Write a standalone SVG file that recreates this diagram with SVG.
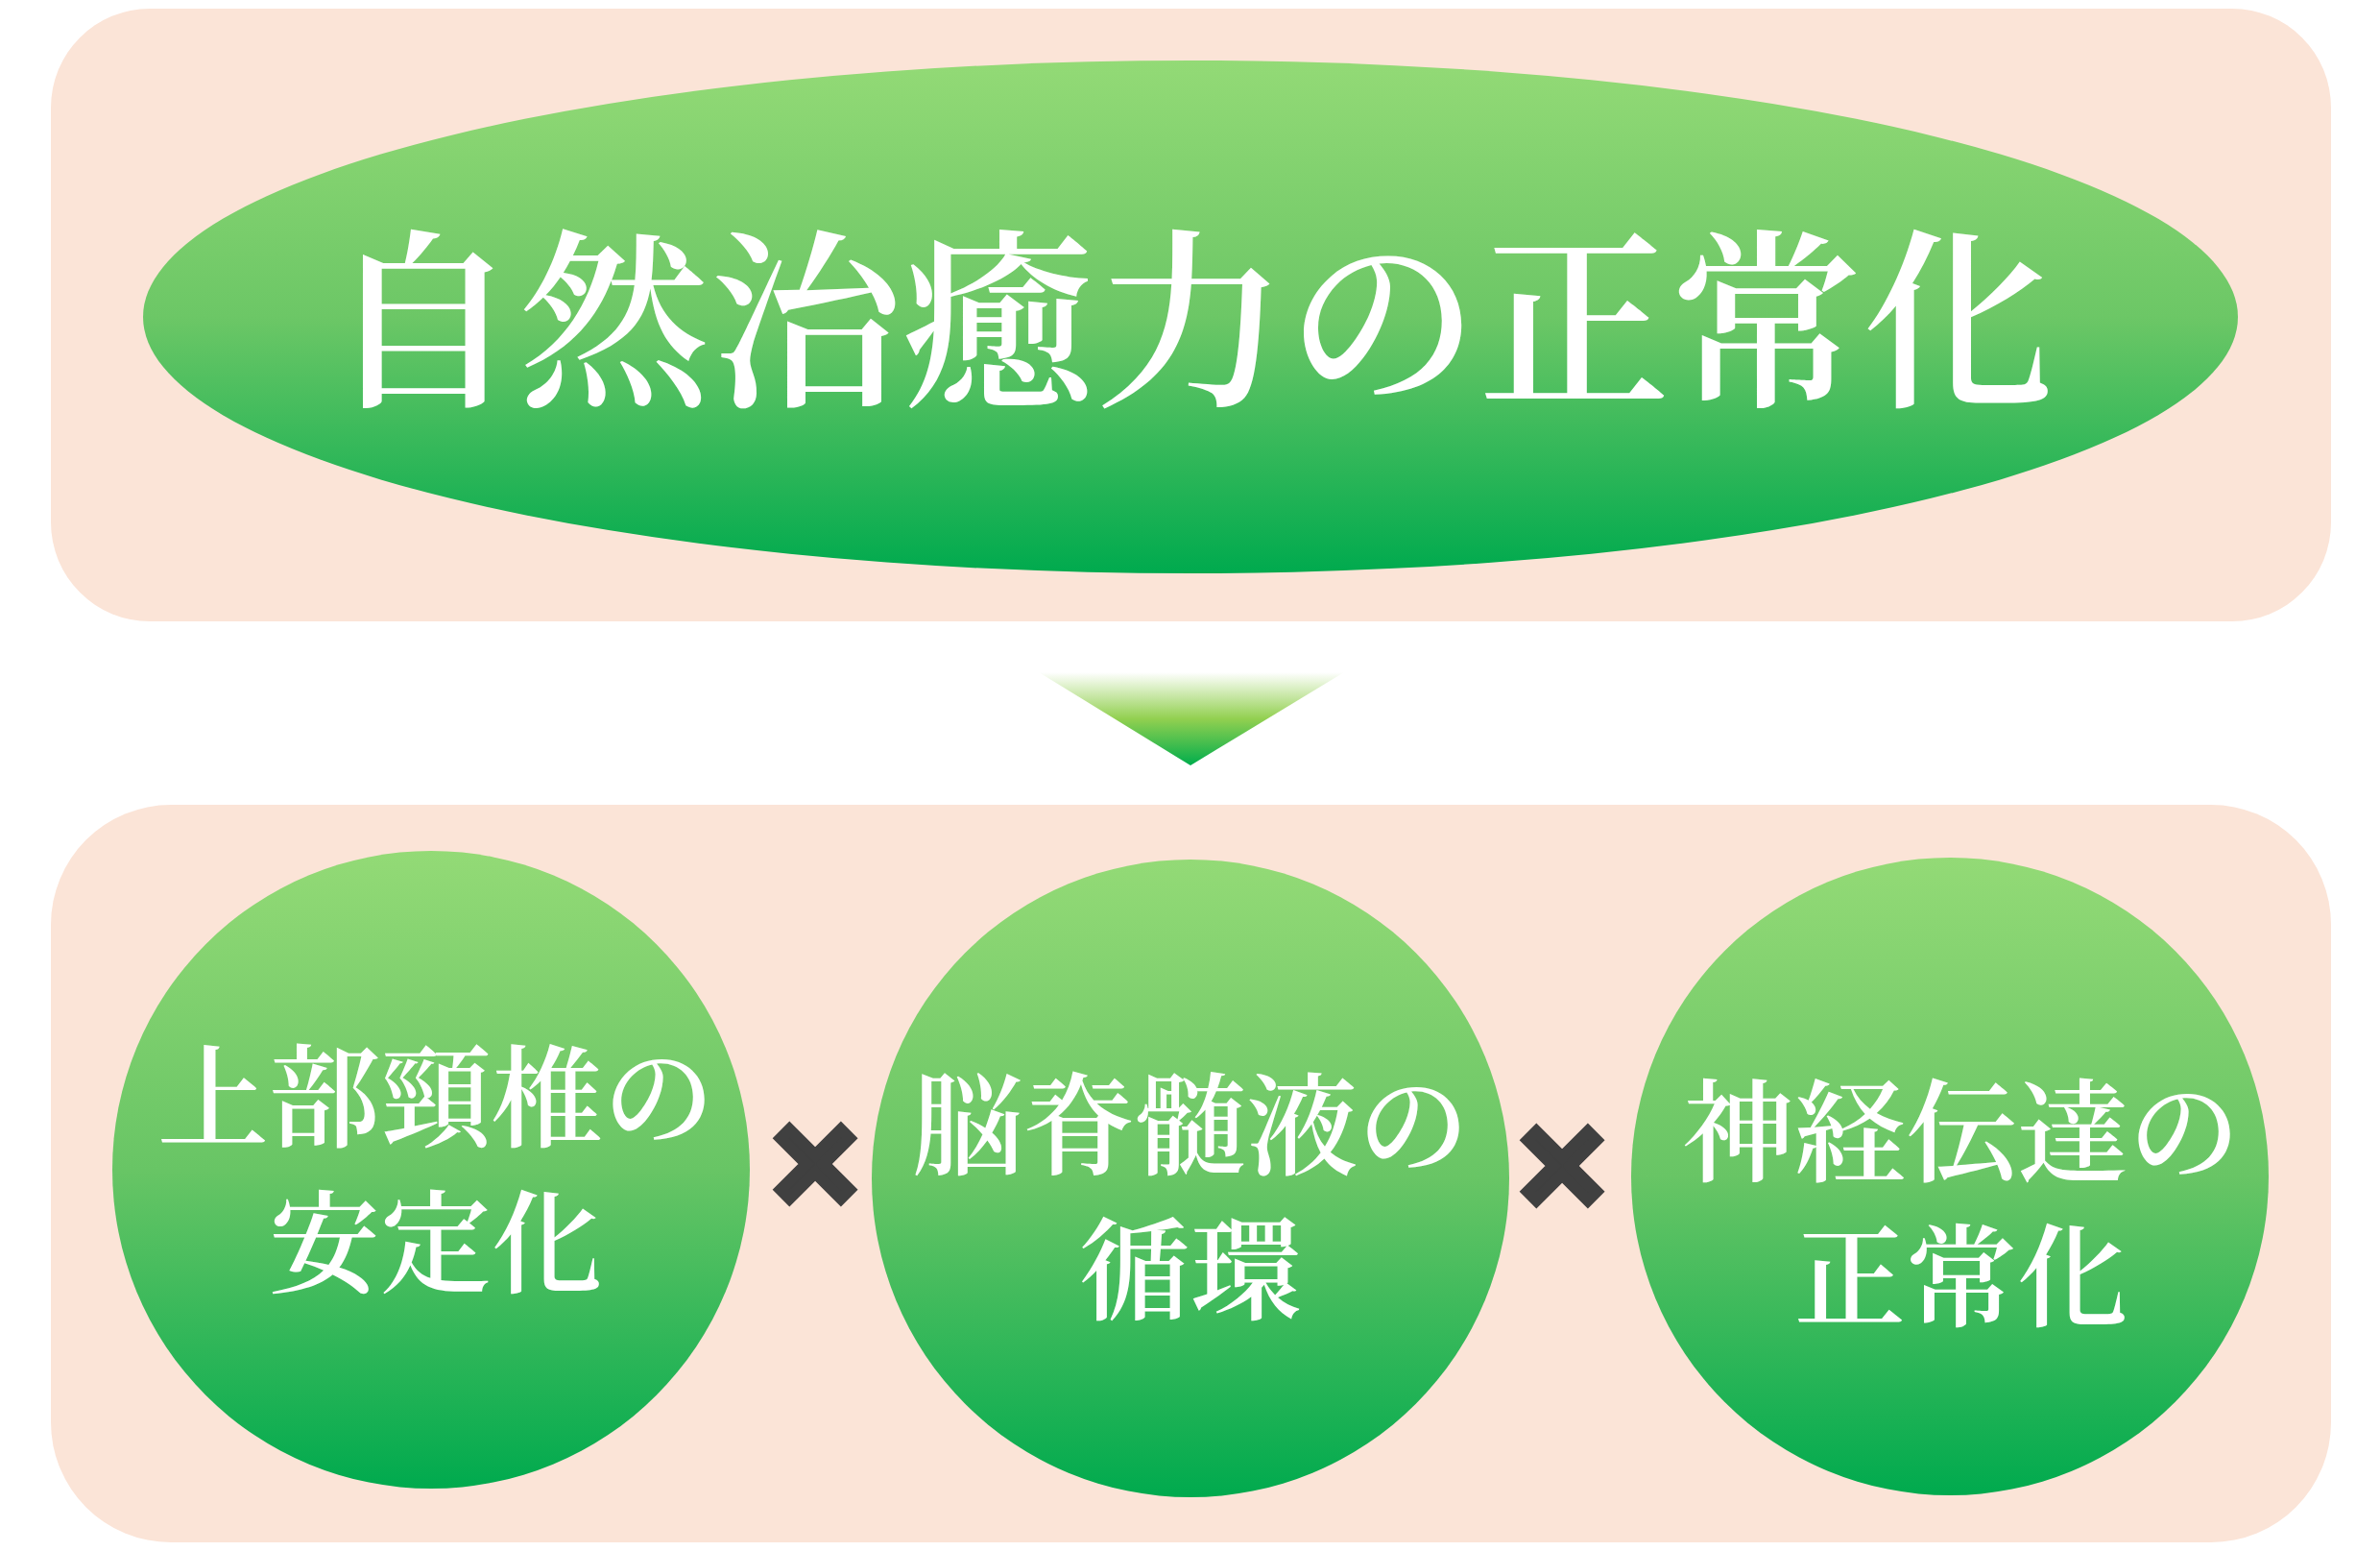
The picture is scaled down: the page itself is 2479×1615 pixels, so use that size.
<svg xmlns="http://www.w3.org/2000/svg" width="2479" height="1615" viewBox="0 0 2479 1615">
  <defs>
    <linearGradient id="gEllipse" x1="0" y1="0" x2="0" y2="1">
      <stop offset="0" stop-color="#93da76"/>
      <stop offset="0.5" stop-color="#6cc766"/>
      <stop offset="1" stop-color="#00aa4e"/>
    </linearGradient>
    <linearGradient id="gCircle" x1="0" y1="0" x2="0" y2="1">
      <stop offset="0" stop-color="#93da76"/>
      <stop offset="0.5" stop-color="#68c565"/>
      <stop offset="1" stop-color="#00aa4e"/>
    </linearGradient>
    <linearGradient id="gArrow" x1="0" y1="0" x2="0" y2="1">
      <stop offset="0" stop-color="#ffffff"/>
      <stop offset="0.5" stop-color="#92d050"/>
      <stop offset="1" stop-color="#00ad4c"/>
    </linearGradient>
  </defs>
  <style>
    .panel { fill: #fbe4d7; }
    .label { fill: #ffffff; font-family: "Noto Serif CJK JP", "Noto Sans CJK JP", sans-serif; font-weight: 600; text-anchor: middle; }
    .title { font-size: 200px; }
    .sub { font-size: 116px; }
    .times { fill: #404040; font-family: "Noto Sans CJK JP", sans-serif; font-weight: 900; font-size: 108px; text-anchor: middle; stroke: #404040; stroke-width: 12; }
  </style>
  <rect width="2479" height="1615" fill="#ffffff"/>

  <g id="panel-top">
    <rect class="panel" x="53" y="9" width="2375" height="638" rx="103" ry="103"/>
  </g>
  <g id="panel-bottom">
    <rect class="panel" x="53" y="838" width="2375" height="768" rx="125" ry="125"/>
  </g>

  <g id="node-title">
    <ellipse cx="1240" cy="330" rx="1091" ry="267" fill="url(#gEllipse)"/>
    <text class="label title" x="1240" y="408">自然治癒力の正常化</text>
  </g>

  <g id="connectors">
    <polygon points="1082,700 1400,700 1240,797" fill="url(#gArrow)"/>
  </g>

  <g id="node-1">
    <circle cx="449" cy="1218" r="332" fill="url(#gCircle)"/>
    <text class="label sub" x="454" y="1185">上部頸椎の</text>
    <text class="label sub" x="454" y="1337">安定化</text>
  </g>
  <g id="node-2">
    <circle cx="1240" cy="1227" r="332" fill="url(#gCircle)"/>
    <text class="label sub" x="1240" y="1214">脳脊髄液の</text>
    <text class="label sub" x="1240" y="1365">循環</text>
  </g>
  <g id="node-3">
    <circle cx="2031" cy="1225" r="332" fill="url(#gCircle)"/>
    <text class="label sub" x="2043" y="1221">神経伝達の</text>
    <text class="label sub" x="2043" y="1372">正常化</text>
  </g>

  <g id="operators">
    <text class="times" x="849" y="1253">×</text>
    <text class="times" x="1627" y="1255">×</text>
  </g>
</svg>
